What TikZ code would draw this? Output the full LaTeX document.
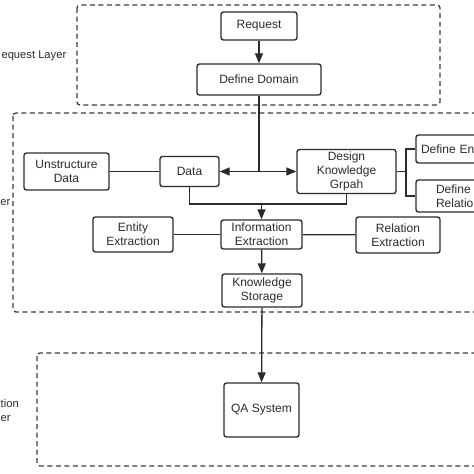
\documentclass[tikz,border=0pt]{standalone}
\usepackage{fontspec}
\setmainfont{Liberation Sans}
\usepackage{xcolor}
\usetikzlibrary{arrows.meta}
\definecolor{ink}{HTML}{2B2B2B}
\definecolor{frame}{HTML}{3C3C3C}
\tikzset{
  box/.style={draw=ink, line width=1.35pt, rounded corners=2.5pt, text=ink, font=\fontsize{12}{14}\selectfont, align=center, inner sep=0pt},
  layer/.style={draw=frame, line width=1.3pt, dash pattern=on 5pt off 3.5pt, rounded corners=3pt},
  link/.style={draw=ink, line width=1.3pt},
  flow/.style={link, -{Triangle[length=10pt,width=8pt]}},
  lab/.style={text=ink, font=\fontsize{11.2}{14}\selectfont, align=left, inner sep=0pt},
}

\begin{document}
\begin{tikzpicture}[x=1pt, y=-1pt]
  \useasboundingbox (0,0) rectangle (474,474);
  \clip (0,0) rectangle (474,474);
  % layers
  \draw[layer] (77,5) rectangle (440,105);
  \draw[layer] (13,113) rectangle (500,312);
  \draw[layer] (37,353) rectangle (500,466);
  \node[lab, anchor=east] (reqlab) at (66.5,56) {equest Layer};
  \node[lab, anchor=east] (kglab) at (10.5,203) {er};
  \node[lab, anchor=west] (applab) at (0.5,410) {tion\\er};
  % request layer
  \node[box, minimum width=76, minimum height=28] (req) at (259,26) {Request};
  \node[box, minimum width=124, minimum height=31] (dom) at (259,79.5) {Define Domain};
  % construction layer
  \node[box, minimum width=85, minimum height=37] (unstr) at (66.5,171.5) {Unstructure\\Data};
  \node[box, minimum width=59, minimum height=30] (data) at (189.5,171.5) {Data};
  \node[box, minimum width=99, minimum height=44] (dkg) at (346.5,171.5) {Design\\Knowledge\\Grpah};
  \node[box, align=left, text width=94, inner xsep=5, minimum height=28] (defent) at (468,149) {Define En};
  \node[box, align=left, text width=64, inner xsep=20, minimum height=32] (defrel) at (468,196) {Define\\Relatio};
  \node[box, minimum width=80, minimum height=35] (ent) at (133,234.5) {Entity\\Extraction};
  \node[box, minimum width=81, minimum height=29] (info) at (261.5,234.5) {Information\\Extraction};
  \node[box, minimum width=84, minimum height=36] (rel) at (398,235) {Relation\\Extraction};
  \node[box, minimum width=80, minimum height=33] (ks) at (262,290.5) {Knowledge\\Storage};
  % application layer
  \node[box, minimum width=75, minimum height=54] (qa) at (261.5,410) {QA System};
  % connectors
  \coordinate (hub) at (259,171.5);
  \coordinate (merge) at (261.5,204);
  \coordinate (fork) at (406,171.5);
  \draw[flow] (req) -- (dom);
  \draw[link] (dom.south) -- (hub);
  \draw[flow] (hub) -- (data.east);
  \draw[flow] (hub) -- (dkg.west);
  \draw[link] (unstr) -- (data);
  \draw[link] (data.south) |- (merge);
  \draw[link] (dkg.south) |- (merge);
  \draw[flow] (merge) -- (info.north);
  \draw[link] (ent) -- (info);
  \draw[link] (info) -- (rel);
  \draw[flow] (info) -- (ks);
  \draw[flow] (ks) -- (qa);
  \draw[link] (dkg.east) -- (fork);
  \draw[link] (fork) |- (defent.west);
  \draw[link] (fork) |- (defrel.west);
\end{tikzpicture}
\end{document}
